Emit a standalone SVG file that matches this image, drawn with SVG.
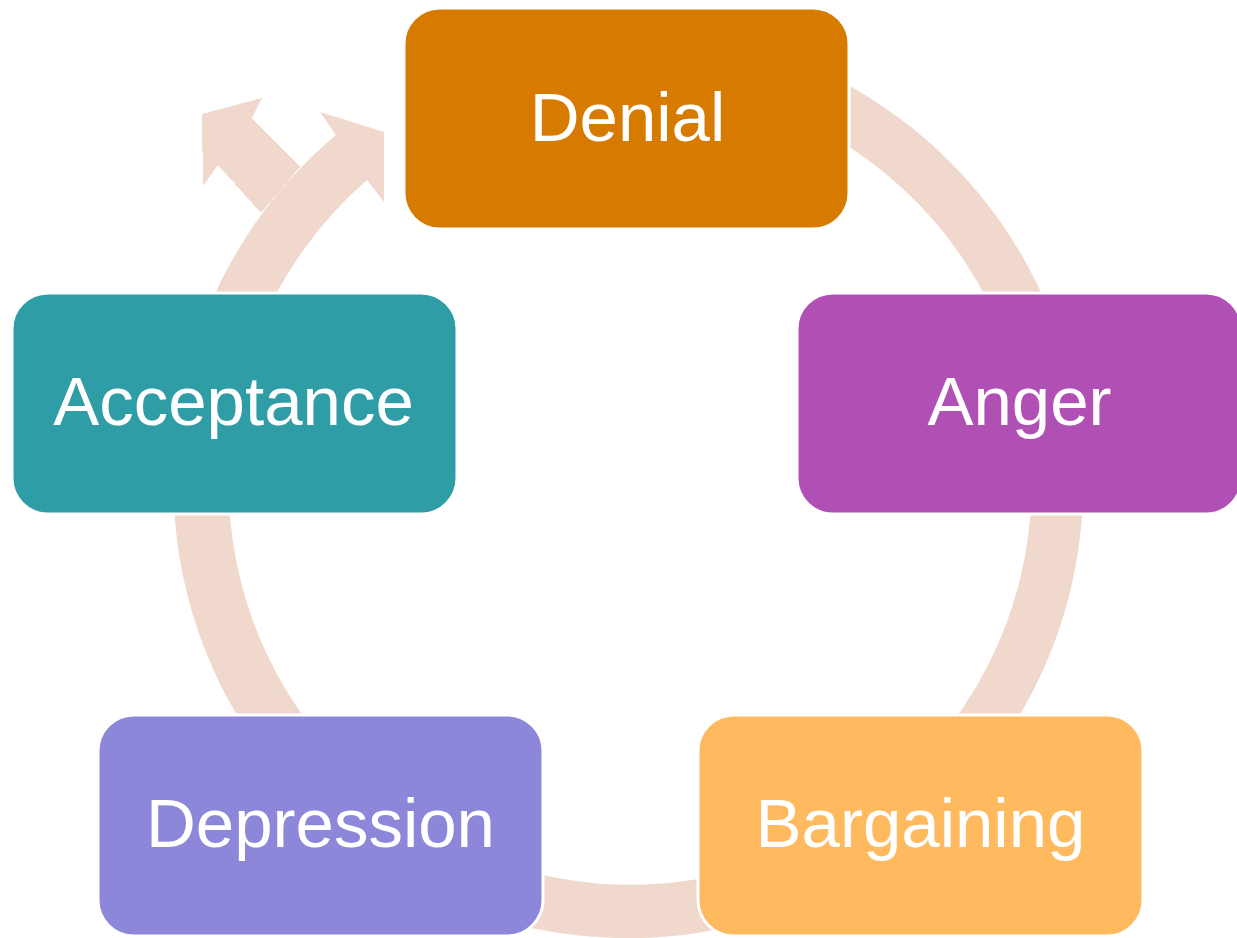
<svg xmlns="http://www.w3.org/2000/svg" width="1237" height="938" viewBox="0 0 1237 938">
  <style>
    .band { fill: #F0D8CC; }
    .box { stroke: #FFFFFF; stroke-width: 3; }
    .lbl { font-family: "Liberation Sans", Arial, sans-serif; font-size: 69px; fill: #FFFFFF; text-anchor: middle; }
  </style>
  <rect width="1237" height="938" fill="#FFFFFF"/>
  <g id="connectors">
    <path class="band" d="M 600 29.5 A 454.8 454.8 0 1 1 336 135 L 320 112 L 384 132 L 384 202 L 367 180 A 401.5 401.5 0 1 0 600 82.9 Z"/>
    <polygon class="band" shape-rendering="crispEdges" points="300,167 252,118 262,98 202,114 203,186 218,165 261,213"/>
  </g>
  <g id="denial">
    <rect class="box" x="404" y="8" width="445" height="221" rx="36" fill="#D67A00"/>
    <text class="lbl" x="627.5" y="141">Denial</text>
  </g>
  <g id="anger">
    <rect class="box" x="797" y="293" width="445" height="221" rx="36" fill="#B050B4"/>
    <text class="lbl" x="1019.5" y="425">Anger</text>
  </g>
  <g id="bargaining">
    <rect class="box" x="698" y="715" width="445" height="221" rx="36" fill="#FFBA5F"/>
    <text class="lbl" x="920.5" y="847">Bargaining</text>
  </g>
  <g id="depression">
    <rect class="box" x="98" y="715" width="445" height="221" rx="36" fill="#8C87D8"/>
    <text class="lbl" x="320.5" y="847">Depression</text>
  </g>
  <g id="acceptance">
    <rect class="box" x="12" y="293" width="445" height="221" rx="36" fill="#2E9DA5"/>
    <text class="lbl" x="233.5" y="425">Acceptance</text>
  </g>
</svg>
